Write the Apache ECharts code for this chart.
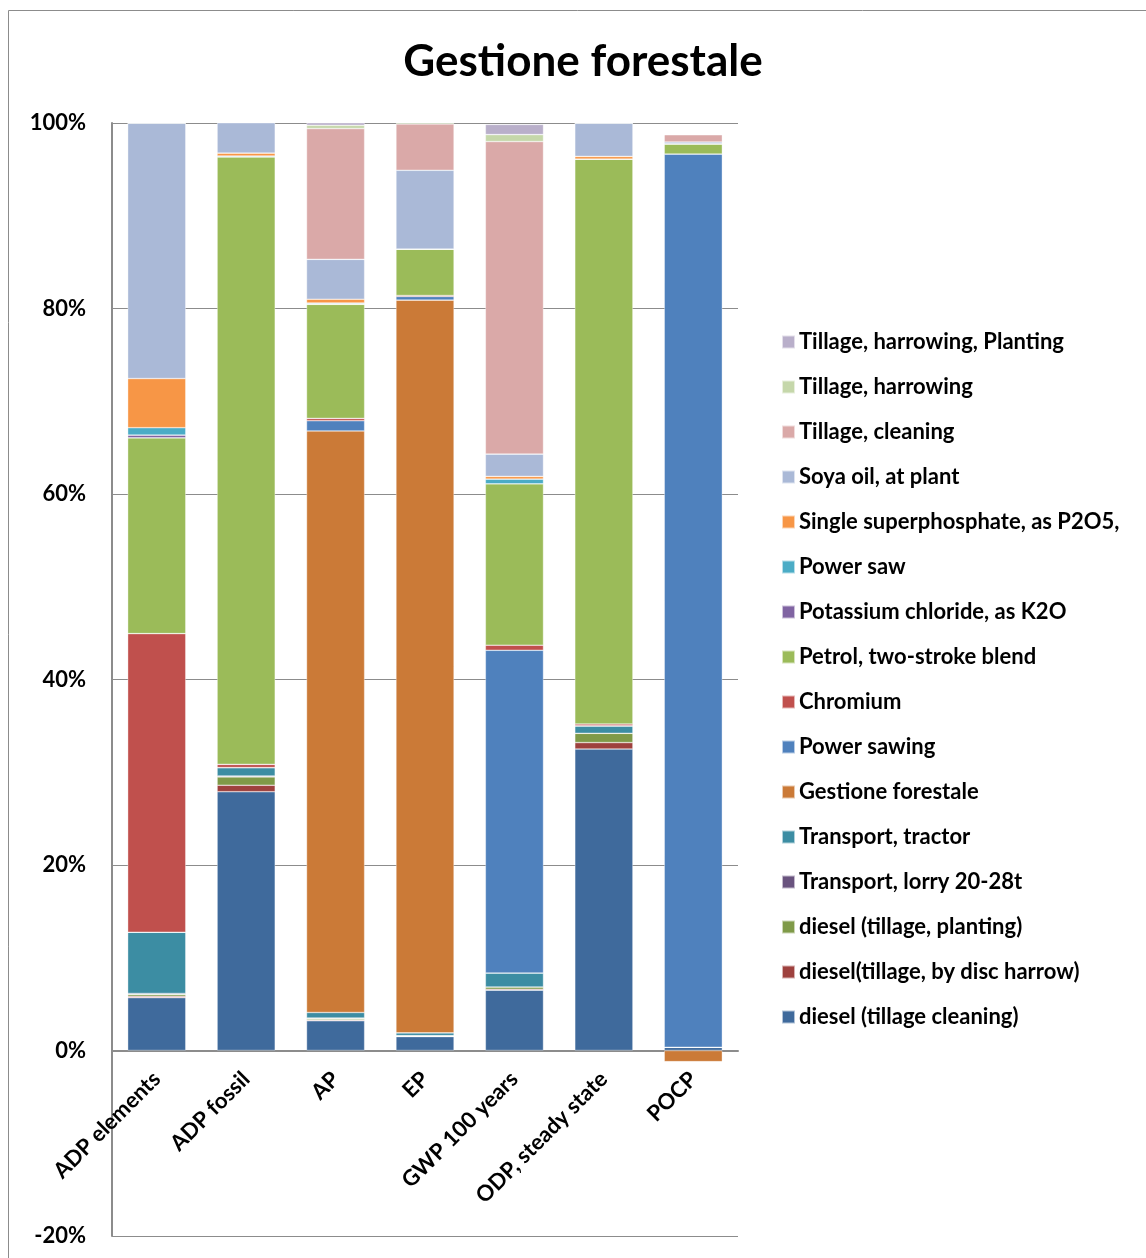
<!DOCTYPE html>
<html>
<head>
<meta charset="utf-8">
<script src="https://cdn.jsdelivr.net/npm/echarts@6/dist/echarts.min.js"></script>
<style>
  html, body { margin: 0; padding: 0; background: #fff; }
  #chart { width: 1146px; height: 1258px; }
</style>
</head>
<body>
<div id="chart"></div>
<script>
// categories
const categories = ['ADP elements', 'ADP fossil', 'AP', 'EP', 'GWP 100 years', 'ODP, steady state', 'POCP']

// series values (% share), bottom of stack first
const dieselCleaning   = [5.7, 27.9, 3.2, 1.5, 6.5, 32.5, 0.35]
const dieselDisc       = [0.15, 0.7, 0.1, 0.05, 0.1, 0.7, 0]
const dieselPlanting   = [0.2, 0.9, 0.15, 0.05, 0.25, 1.0, 0]
const lorry            = [0.1, 0.1, 0.05, 0, 0, 0, 0]
const tractor          = [6.6, 0.9, 0.6, 0.3, 1.5, 0.8, 0]
const gestione         = [0, 0, 62.7, 79.0, 0, 0, -1.2]
const powerSawing      = [0, 0, 1.1, 0.4, 34.8, 0, 96.3]
const chromium         = [32.2, 0.35, 0.25, 0.1, 0.55, 0.2, 0]
const petrol           = [21.1, 65.5, 12.3, 5.0, 17.4, 60.9, 1.1]
const potassium        = [0.3, 0, 0.05, 0, 0, 0, 0]
const powerSaw         = [0.8, 0.1, 0.1, 0, 0.5, 0, 0]
const superphosphate   = [5.3, 0.3, 0.4, 0, 0.3, 0.3, 0]
const soyaOil          = [27.55, 3.5, 4.3, 8.5, 2.4, 3.6, 0.2]
const tillageCleaning  = [0, 0, 14.1, 5.0, 33.7, 0, 0.8]
const tillageHarrowing = [0, 0, 0.35, 0.3, 0.75, 0, 0]
const tillagePlanting  = [0, 0, 0.45, 0.1, 1.1, 0, 0]

// y axis ticks
const yTicks = [-20, 0, 20, 40, 60, 80, 100]

const seriesList = [
  ['diesel (tillage cleaning)', dieselCleaning, '#3F6A9C'],
  ['diesel(tillage, by disc harrow)', dieselDisc, '#9E413E'],
  ['diesel (tillage, planting)', dieselPlanting, '#7F9A48'],
  ['Transport, lorry 20-28t', lorry, '#69537E'],
  ['Transport, tractor', tractor, '#3C8DA3'],
  ['Gestione forestale', gestione, '#CB7A37'],
  ['Power sawing', powerSawing, '#4F81BD'],
  ['Chromium', chromium, '#C0504D'],
  ['Petrol, two-stroke blend', petrol, '#9BBB59'],
  ['Potassium chloride, as K2O', potassium, '#8064A2'],
  ['Power saw', powerSaw, '#4BACC6'],
  ['Single superphosphate, as P2O5,', superphosphate, '#F79646'],
  ['Soya oil, at plant', soyaOil, '#AAB9D7'],
  ['Tillage, cleaning', tillageCleaning, '#DAA9A8'],
  ['Tillage, harrowing', tillageHarrowing, '#C5D7AA'],
  ['Tillage, harrowing, Planting', tillagePlanting, '#B9AFCA']
]

const chart = echarts.init(document.getElementById('chart'))
const fontFam = 'Lato, "Open Sans", sans-serif'

// plot area
const gridTop = 123, gridBottom = 22
const plotH = 1258 - gridTop - gridBottom
const yMin = yTicks[0], yMax = yTicks[yTicks.length - 1]
// move the category axis (line + labels) up to the 0% line
const zeroOffset = plotH * (0 - yMin) / (yMax - yMin)

chart.setOption({
  animation: false,
  textStyle: { fontFamily: fontFam },
  title: {
    text: 'Gestione forestale',
    left: 578,
    top: 35,
    textAlign: 'center',
    textStyle: { fontSize: 44, fontWeight: 'bold', color: '#000', fontFamily: fontFam }
  },
  graphic: [{
    type: 'rect',
    shape: { x: 8.5, y: 10.5, width: 1200, height: 1300 },
    style: { fill: 'none', stroke: '#8c8c8c', lineWidth: 1 },
    silent: true
  }],
  legend: {
    orient: 'vertical',
    left: 781,
    top: 331,
    padding: 0,
    itemWidth: 13,
    itemHeight: 13,
    itemGap: 23,
    icon: 'rect',
    data: seriesList.map(s => s[0]).reverse(),
    textStyle: { fontSize: 22, fontWeight: 'bold', color: '#000', padding: [0, 0, 0, -1], lineHeight: 22 }
  },
  grid: { left: 112, right: 408, top: gridTop, bottom: gridBottom, outerBoundsMode: 'none', containLabel: false },
  xAxis: {
    type: 'category',
    data: categories,
    offset: -zeroOffset,
    axisLine: { onZero: false, lineStyle: { color: '#8c8c8c', width: 2 } },
    axisTick: { show: false },
    axisLabel: { rotate: 45, fontSize: 22, fontWeight: 'bold', color: '#000', margin: 25, interval: 0 }
  },
  yAxis: {
    type: 'value',
    min: yMin,
    max: yMax,
    interval: 20,
    axisLine: { show: true, lineStyle: { color: '#8c8c8c', width: 2 } },
    axisTick: { show: false },
    splitLine: { lineStyle: { color: '#8c8c8c', width: 1 } },
    axisLabel: { formatter: '{value}%', fontSize: 22, fontWeight: 'bold', color: '#000', margin: 26 }
  },
  series: seriesList.map(s => ({
    name: s[0],
    type: 'bar',
    stack: 'total',
    data: s[1],
    barCategoryGap: '35%',
    itemStyle: { color: s[2], borderColor: 'rgba(255,255,255,0.6)', borderWidth: 0.6 }
  }))
})
</script>
</body>
</html>
